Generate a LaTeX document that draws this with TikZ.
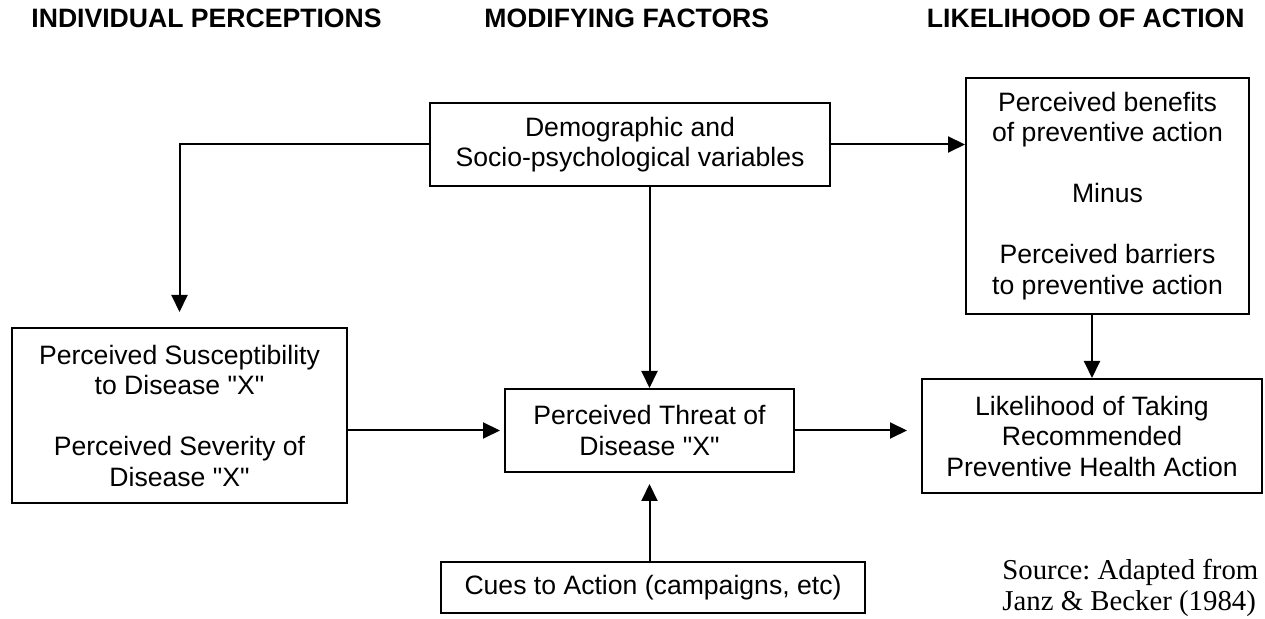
\documentclass[tikz,border=0pt]{standalone}
\usepackage{fontspec}
\setmainfont{Liberation Sans}[Ligatures=TeXOff]
\newfontfamily\sourcefont{Liberation Serif}
\usetikzlibrary{arrows.meta}
\tikzset{
  box/.style={draw, line width=1pt, align=center, inner sep=0pt, font=\fontsize{13.3}{15.25}\selectfont},
  heading/.style={inner sep=0pt, font=\fontsize{13.3}{15.25}\selectfont\bfseries},
  source/.style={inner sep=0pt, anchor=base west, font=\sourcefont\frenchspacing\fontsize{14.4}{16.5}\selectfont},
  link/.style={line width=1pt, -{Triangle[length=8.5pt,width=8pt]}}
}
\begin{document}
\begin{tikzpicture}[x=0.5pt, y=-0.5pt]
        \useasboundingbox (0,0) rectangle (1265,619);

        % Headings
        \node(hind) [heading, anchor=base west] at (31,28) {INDIVIDUAL PERCEPTIONS};
        \node(hmod) [heading, anchor=base west] at (484,28) {MODIFYING FACTORS};
        \node(hlik) [heading, anchor=base east] at (1245,28) {LIKELIHOOD OF ACTION};

        % Nodes
        \node(demo) [box, minimum width=200pt, minimum height=41.5pt] at (630,144.5) {Demographic and\\Socio-psychological variables};
        \node(ben) [box, minimum width=141.5pt, minimum height=118pt] at (1107.5,196) {Perceived benefits\\of preventive action\\[15.25pt]Minus\\[15.25pt]Perceived barriers\\to preventive action};
        \node(sus) [box, minimum width=167.5pt, minimum height=87.5pt] at (179.5,415.5) {Perceived Susceptibility\\to Disease "X"\\[15.25pt]Perceived Severity of\\Disease "X"};
        \node(threat) [box, minimum width=144.5pt, minimum height=41.5pt] at (649.5,430.5) {Perceived Threat of\\Disease "X"};
        \node(lik) [box, minimum width=170pt, minimum height=57pt] at (1092,436) {Likelihood of Taking\\Recommended\\Preventive Health Action};
        \node(cues) [box, minimum width=212pt, minimum height=25.5pt] at (653,587.5) {Cues to Action (campaigns, etc)};

        % Source
        \node(src1) [source] at (1002,580) {Source: Adapted from};
        \node(src2) [source] at (1002,611) {Janz \& Becker (1984)};

        % Edges
        \draw[link, shorten >=7.5pt] (demo.west) -| (sus.north);
        \draw[link] (demo.east) -- (demo.east -| ben.west);
        \draw[link] (demo.south -| threat.north) -- (threat.north);
        \draw[link] (ben.south -| lik.north) -- (lik.north);
        \draw[link, shorten >=2pt] (sus.east |- threat.west) -- (threat.west);
        \draw[link, shorten >=7pt] (threat.east) -- (threat.east -| lik.west);
        \draw[link, shorten >=5.5pt] (cues.north -| threat.south) -- (threat.south);

    \end{tikzpicture}
\end{document}
